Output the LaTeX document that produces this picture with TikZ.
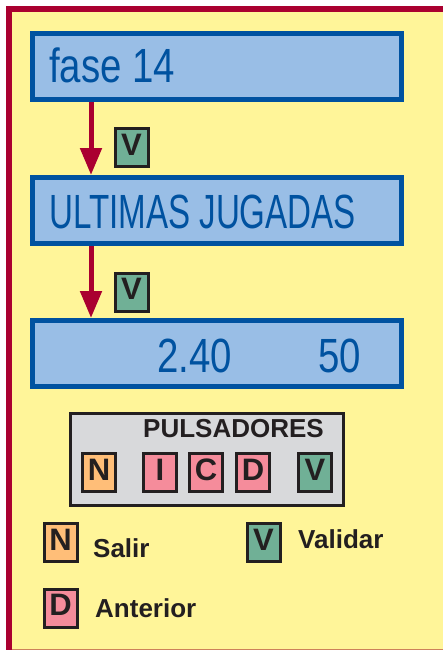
\documentclass[tikz,border=0pt]{standalone}
\usepackage{fontspec}
\setmainfont{Liberation Sans}
\newfontfamily\lcdfont[FakeStretch=0.8]{Liberation Sans}
\newfontfamily\lcdcaps[FakeStretch=0.69]{Liberation Sans}
\usetikzlibrary{arrows.meta, positioning}
\definecolor{paneyellow}{RGB}{255, 245, 153}
\definecolor{framered}{RGB}{170, 0, 48}
\definecolor{edgebrown}{RGB}{205, 130, 90}
\definecolor{lcdblue}{RGB}{0, 82, 160}
\definecolor{lcdfill}{RGB}{153, 190, 230}
\definecolor{keygreen}{RGB}{112, 176, 150}
\definecolor{keyorange}{RGB}{255, 190, 120}
\definecolor{keypink}{RGB}{245, 140, 155}
\definecolor{panelgray}{RGB}{216, 217, 219}
\definecolor{keyline}{RGB}{35, 31, 32}

\begin{document}
\begin{tikzpicture}[
    x=1pt, y=-1pt,
    screen/.style={draw=lcdblue, fill=lcdfill, line width=5pt, minimum width=369pt, minimum height=66pt, inner sep=0pt},
    lcd/.style={inner sep=0pt, text=lcdblue, font=\lcdfont\fontsize{48}{50}\selectfont},
    key/.style={draw=keyline, line width=3pt, minimum width=33pt, minimum height=38pt, inner sep=0pt, text height=23pt, text depth=8pt, text=keyline, font=\fontsize{31}{33}\selectfont\bfseries},
    keyN/.style={key, fill=keyorange},
    keyD/.style={key, fill=keypink},
    keyV/.style={key, fill=keygreen},
    legend/.style={inner sep=0pt, text=keyline, font=\fontsize{26}{28}\selectfont\bfseries},
    arrow/.style={draw=framered, line width=5pt, -{Triangle[length=27pt, width=21pt]}}
]
\useasboundingbox (0,0) rectangle (443,650);

% Frame
\fill[paneyellow] (9,9) rectangle (443,649);
\draw[edgebrown, line width=1.2pt] (9,649.4) -- (443,649.4);
\draw[framered, line width=6pt] (9,650) -- (9,9) -- (443,9);

% Screens
\node[screen] (fase) at (217,66.5) {};
\node[screen, below=73pt of fase] (jugadas) {};
\node[screen, below=72pt of jugadas] (valores) {};

\node[lcd, anchor=base west] (faseTxt) at (49,83) {fase 14};
\node[lcd, font=\lcdcaps\fontsize{48}{50}\selectfont, anchor=base west] (jugadasTxt) at (49,228) {ULTIMAS JUGADAS};
\node[lcd, anchor=base west] (precio) at (157,372) {2.40};
\node[lcd, anchor=base west] (cuenta) at (318,372) {50};

% Arrows
\coordinate (ax) at (91,0);
\draw[arrow] (fase.south -| ax) -- (jugadas.north -| ax);
\draw[arrow] (jugadas.south -| ax) -- (valores.north -| ax);
\node[keyV] (paso1) at (131.5,147.5) {V};
\node[keyV] (paso2) at (131.5,292) {V};

% Pulsadores
\node[draw=keyline, fill=panelgray, line width=3pt, minimum width=273pt, minimum height=92pt] (panel) at (207,459.5) {};
\node[legend, anchor=base] (panelTxt) at (233.5,437) {PULSADORES};
\node[keyN] (kN) at (99,472.5) {N};
\node[keyD, right=25pt of kN] (kI) {I};
\node[keyD, right=10pt of kI] (kC) {C};
\node[keyD, right=11pt of kC] (kD) {D};
\node[keyV, right=26pt of kD] (kV) {V};

% Legend
\node[keyN] (legN) at (60.5,542.5) {N};
\node[keyV] (legV) at (263.5,542.5) {V};
\node[keyD] (legD) at (60.5,608) {D};
\node[legend, anchor=base west] (salir) at (93,557) {Salir};
\node[legend, anchor=base west] (validar) at (298,548) {Validar};
\node[legend, anchor=base west] (anterior) at (95,617) {Anterior};

\end{tikzpicture}
\end{document}
